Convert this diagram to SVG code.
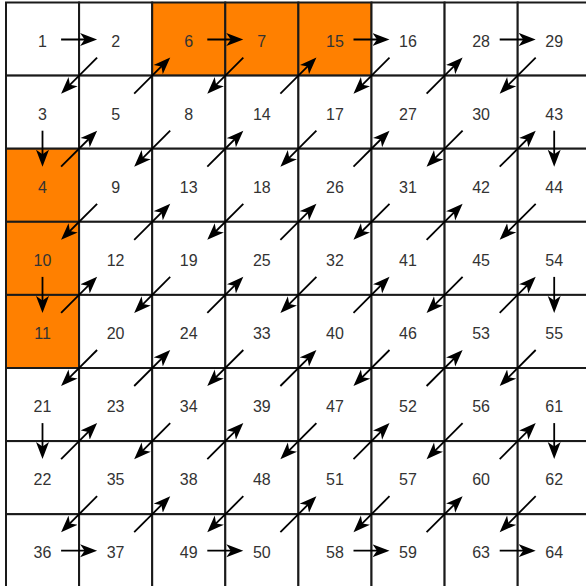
<svg xmlns="http://www.w3.org/2000/svg" width="586" height="586" viewBox="0 0 586 586">
<style>
.c{fill:#fff;stroke:#1a1a1a;stroke-width:2}
.o{fill:#ff8000;stroke:#1a1a1a;stroke-width:2}
text{font-family:"Liberation Sans",Arial,sans-serif;font-size:16px;fill:#333;text-anchor:middle}
.a{stroke:#000;stroke-width:1.8;fill:none;marker-end:url(#ah)}
</style>
<defs>
<marker id="ah" markerUnits="userSpaceOnUse" markerWidth="18" markerHeight="14" refX="13" refY="6.5" orient="auto" viewBox="0 0 18 13">
<path d="M0,0 L17,6.5 L0,13 L4.5,6.5 Z" fill="#000"/>
</marker>
</defs>
<rect width="586" height="586" fill="#fff"/>
<g id="nodes">
<g id="n1" transform="translate(6,2.5)"><rect class="c" width="73.1" height="73.1"/><text x="36.5" y="44.1">1</text></g>
<g id="n2" transform="translate(79.1,2.5)"><rect class="c" width="73.1" height="73.1"/><text x="36.5" y="44.1">2</text></g>
<g id="n6" transform="translate(152.2,2.5)"><rect class="o" width="73.1" height="73.1"/><text x="36.5" y="44.1">6</text></g>
<g id="n7" transform="translate(225.3,2.5)"><rect class="o" width="73.1" height="73.1"/><text x="36.5" y="44.1">7</text></g>
<g id="n15" transform="translate(298.4,2.5)"><rect class="o" width="73.1" height="73.1"/><text x="36.5" y="44.1">15</text></g>
<g id="n16" transform="translate(371.5,2.5)"><rect class="c" width="73.1" height="73.1"/><text x="36.5" y="44.1">16</text></g>
<g id="n28" transform="translate(444.6,2.5)"><rect class="c" width="73.1" height="73.1"/><text x="36.5" y="44.1">28</text></g>
<g id="n29" transform="translate(517.7,2.5)"><rect class="c" width="73.1" height="73.1"/><text x="36.5" y="44.1">29</text></g>

<g id="n3" transform="translate(6,75.6)"><rect class="c" width="73.1" height="73.1"/><text x="36.5" y="44.1">3</text></g>
<g id="n5" transform="translate(79.1,75.6)"><rect class="c" width="73.1" height="73.1"/><text x="36.5" y="44.1">5</text></g>
<g id="n8" transform="translate(152.2,75.6)"><rect class="c" width="73.1" height="73.1"/><text x="36.5" y="44.1">8</text></g>
<g id="n14" transform="translate(225.3,75.6)"><rect class="c" width="73.1" height="73.1"/><text x="36.5" y="44.1">14</text></g>
<g id="n17" transform="translate(298.4,75.6)"><rect class="c" width="73.1" height="73.1"/><text x="36.5" y="44.1">17</text></g>
<g id="n27" transform="translate(371.5,75.6)"><rect class="c" width="73.1" height="73.1"/><text x="36.5" y="44.1">27</text></g>
<g id="n30" transform="translate(444.6,75.6)"><rect class="c" width="73.1" height="73.1"/><text x="36.5" y="44.1">30</text></g>
<g id="n43" transform="translate(517.7,75.6)"><rect class="c" width="73.1" height="73.1"/><text x="36.5" y="44.1">43</text></g>

<g id="n4" transform="translate(6,148.7)"><rect class="o" width="73.1" height="73.1"/><text x="36.5" y="44.1">4</text></g>
<g id="n9" transform="translate(79.1,148.7)"><rect class="c" width="73.1" height="73.1"/><text x="36.5" y="44.1">9</text></g>
<g id="n13" transform="translate(152.2,148.7)"><rect class="c" width="73.1" height="73.1"/><text x="36.5" y="44.1">13</text></g>
<g id="n18" transform="translate(225.3,148.7)"><rect class="c" width="73.1" height="73.1"/><text x="36.5" y="44.1">18</text></g>
<g id="n26" transform="translate(298.4,148.7)"><rect class="c" width="73.1" height="73.1"/><text x="36.5" y="44.1">26</text></g>
<g id="n31" transform="translate(371.5,148.7)"><rect class="c" width="73.1" height="73.1"/><text x="36.5" y="44.1">31</text></g>
<g id="n42" transform="translate(444.6,148.7)"><rect class="c" width="73.1" height="73.1"/><text x="36.5" y="44.1">42</text></g>
<g id="n44" transform="translate(517.7,148.7)"><rect class="c" width="73.1" height="73.1"/><text x="36.5" y="44.1">44</text></g>

<g id="n10" transform="translate(6,221.8)"><rect class="o" width="73.1" height="73.1"/><text x="36.5" y="44.1">10</text></g>
<g id="n12" transform="translate(79.1,221.8)"><rect class="c" width="73.1" height="73.1"/><text x="36.5" y="44.1">12</text></g>
<g id="n19" transform="translate(152.2,221.8)"><rect class="c" width="73.1" height="73.1"/><text x="36.5" y="44.1">19</text></g>
<g id="n25" transform="translate(225.3,221.8)"><rect class="c" width="73.1" height="73.1"/><text x="36.5" y="44.1">25</text></g>
<g id="n32" transform="translate(298.4,221.8)"><rect class="c" width="73.1" height="73.1"/><text x="36.5" y="44.1">32</text></g>
<g id="n41" transform="translate(371.5,221.8)"><rect class="c" width="73.1" height="73.1"/><text x="36.5" y="44.1">41</text></g>
<g id="n45" transform="translate(444.6,221.8)"><rect class="c" width="73.1" height="73.1"/><text x="36.5" y="44.1">45</text></g>
<g id="n54" transform="translate(517.7,221.8)"><rect class="c" width="73.1" height="73.1"/><text x="36.5" y="44.1">54</text></g>

<g id="n11" transform="translate(6,294.9)"><rect class="o" width="73.1" height="73.1"/><text x="36.5" y="44.1">11</text></g>
<g id="n20" transform="translate(79.1,294.9)"><rect class="c" width="73.1" height="73.1"/><text x="36.5" y="44.1">20</text></g>
<g id="n24" transform="translate(152.2,294.9)"><rect class="c" width="73.1" height="73.1"/><text x="36.5" y="44.1">24</text></g>
<g id="n33" transform="translate(225.3,294.9)"><rect class="c" width="73.1" height="73.1"/><text x="36.5" y="44.1">33</text></g>
<g id="n40" transform="translate(298.4,294.9)"><rect class="c" width="73.1" height="73.1"/><text x="36.5" y="44.1">40</text></g>
<g id="n46" transform="translate(371.5,294.9)"><rect class="c" width="73.1" height="73.1"/><text x="36.5" y="44.1">46</text></g>
<g id="n53" transform="translate(444.6,294.9)"><rect class="c" width="73.1" height="73.1"/><text x="36.5" y="44.1">53</text></g>
<g id="n55" transform="translate(517.7,294.9)"><rect class="c" width="73.1" height="73.1"/><text x="36.5" y="44.1">55</text></g>

<g id="n21" transform="translate(6,368)"><rect class="c" width="73.1" height="73.1"/><text x="36.5" y="44.1">21</text></g>
<g id="n23" transform="translate(79.1,368)"><rect class="c" width="73.1" height="73.1"/><text x="36.5" y="44.1">23</text></g>
<g id="n34" transform="translate(152.2,368)"><rect class="c" width="73.1" height="73.1"/><text x="36.5" y="44.1">34</text></g>
<g id="n39" transform="translate(225.3,368)"><rect class="c" width="73.1" height="73.1"/><text x="36.5" y="44.1">39</text></g>
<g id="n47" transform="translate(298.4,368)"><rect class="c" width="73.1" height="73.1"/><text x="36.5" y="44.1">47</text></g>
<g id="n52" transform="translate(371.5,368)"><rect class="c" width="73.1" height="73.1"/><text x="36.5" y="44.1">52</text></g>
<g id="n56" transform="translate(444.6,368)"><rect class="c" width="73.1" height="73.1"/><text x="36.5" y="44.1">56</text></g>
<g id="n61" transform="translate(517.7,368)"><rect class="c" width="73.1" height="73.1"/><text x="36.5" y="44.1">61</text></g>

<g id="n22" transform="translate(6,441.1)"><rect class="c" width="73.1" height="73.1"/><text x="36.5" y="44.1">22</text></g>
<g id="n35" transform="translate(79.1,441.1)"><rect class="c" width="73.1" height="73.1"/><text x="36.5" y="44.1">35</text></g>
<g id="n38" transform="translate(152.2,441.1)"><rect class="c" width="73.1" height="73.1"/><text x="36.5" y="44.1">38</text></g>
<g id="n48" transform="translate(225.3,441.1)"><rect class="c" width="73.1" height="73.1"/><text x="36.5" y="44.1">48</text></g>
<g id="n51" transform="translate(298.4,441.1)"><rect class="c" width="73.1" height="73.1"/><text x="36.5" y="44.1">51</text></g>
<g id="n57" transform="translate(371.5,441.1)"><rect class="c" width="73.1" height="73.1"/><text x="36.5" y="44.1">57</text></g>
<g id="n60" transform="translate(444.6,441.1)"><rect class="c" width="73.1" height="73.1"/><text x="36.5" y="44.1">60</text></g>
<g id="n62" transform="translate(517.7,441.1)"><rect class="c" width="73.1" height="73.1"/><text x="36.5" y="44.1">62</text></g>

<g id="n36" transform="translate(6,514.2)"><rect class="c" width="73.1" height="73.1"/><text x="36.5" y="44.1">36</text></g>
<g id="n37" transform="translate(79.1,514.2)"><rect class="c" width="73.1" height="73.1"/><text x="36.5" y="44.1">37</text></g>
<g id="n49" transform="translate(152.2,514.2)"><rect class="c" width="73.1" height="73.1"/><text x="36.5" y="44.1">49</text></g>
<g id="n50" transform="translate(225.3,514.2)"><rect class="c" width="73.1" height="73.1"/><text x="36.5" y="44.1">50</text></g>
<g id="n58" transform="translate(298.4,514.2)"><rect class="c" width="73.1" height="73.1"/><text x="36.5" y="44.1">58</text></g>
<g id="n59" transform="translate(371.5,514.2)"><rect class="c" width="73.1" height="73.1"/><text x="36.5" y="44.1">59</text></g>
<g id="n63" transform="translate(444.6,514.2)"><rect class="c" width="73.1" height="73.1"/><text x="36.5" y="44.1">63</text></g>
<g id="n64" transform="translate(517.7,514.2)"><rect class="c" width="73.1" height="73.1"/><text x="36.5" y="44.1">64</text></g>
</g>
<g id="connectors">
<line class="a" x1="61.1" y1="39.5" x2="93.1" y2="39.5"/>
<line class="a" x1="97.1" y1="57.6" x2="63.9" y2="90.8"/>
<line class="a" x1="42.5" y1="130.7" x2="42.5" y2="162.7"/>
<line class="a" x1="61.1" y1="166.7" x2="94.3" y2="133.5"/>
<line class="a" x1="134.2" y1="93.6" x2="167.4" y2="60.4"/>
<line class="a" x1="207.3" y1="39.5" x2="239.3" y2="39.5"/>
<line class="a" x1="243.3" y1="57.6" x2="210.1" y2="90.8"/>
<line class="a" x1="170.2" y1="130.7" x2="137" y2="163.9"/>
<line class="a" x1="97.1" y1="203.8" x2="63.9" y2="237"/>
<line class="a" x1="42.5" y1="276.9" x2="42.5" y2="308.9"/>
<line class="a" x1="61.1" y1="312.9" x2="94.3" y2="279.7"/>
<line class="a" x1="134.2" y1="239.8" x2="167.4" y2="206.6"/>
<line class="a" x1="207.3" y1="166.7" x2="240.5" y2="133.5"/>
<line class="a" x1="280.4" y1="93.6" x2="313.6" y2="60.4"/>
<line class="a" x1="353.5" y1="39.5" x2="385.5" y2="39.5"/>
<line class="a" x1="389.5" y1="57.6" x2="356.3" y2="90.8"/>
<line class="a" x1="316.4" y1="130.7" x2="283.2" y2="163.9"/>
<line class="a" x1="243.3" y1="203.8" x2="210.1" y2="237"/>
<line class="a" x1="170.2" y1="276.9" x2="137" y2="310.1"/>
<line class="a" x1="97.1" y1="350" x2="63.9" y2="383.2"/>
<line class="a" x1="42.5" y1="423.1" x2="42.5" y2="455.1"/>
<line class="a" x1="61.1" y1="459.1" x2="94.3" y2="425.9"/>
<line class="a" x1="134.2" y1="386" x2="167.4" y2="352.8"/>
<line class="a" x1="207.3" y1="312.9" x2="240.5" y2="279.7"/>
<line class="a" x1="280.4" y1="239.8" x2="313.6" y2="206.6"/>
<line class="a" x1="353.5" y1="166.7" x2="386.7" y2="133.5"/>
<line class="a" x1="426.6" y1="93.6" x2="459.8" y2="60.4"/>
<line class="a" x1="499.7" y1="39.5" x2="531.7" y2="39.5"/>
<line class="a" x1="535.7" y1="57.6" x2="502.5" y2="90.8"/>
<line class="a" x1="462.6" y1="130.7" x2="429.4" y2="163.9"/>
<line class="a" x1="389.5" y1="203.8" x2="356.3" y2="237"/>
<line class="a" x1="316.4" y1="276.9" x2="283.2" y2="310.1"/>
<line class="a" x1="243.3" y1="350" x2="210.1" y2="383.2"/>
<line class="a" x1="170.2" y1="423.1" x2="137" y2="456.3"/>
<line class="a" x1="97.1" y1="496.2" x2="63.9" y2="529.4"/>
<line class="a" x1="61.1" y1="550.7" x2="93.1" y2="550.7"/>
<line class="a" x1="134.2" y1="532.2" x2="167.4" y2="499"/>
<line class="a" x1="207.3" y1="459.1" x2="240.5" y2="425.9"/>
<line class="a" x1="280.4" y1="386" x2="313.6" y2="352.8"/>
<line class="a" x1="353.5" y1="312.9" x2="386.7" y2="279.7"/>
<line class="a" x1="426.6" y1="239.8" x2="459.8" y2="206.6"/>
<line class="a" x1="499.7" y1="166.7" x2="532.9" y2="133.5"/>
<line class="a" x1="554.2" y1="130.7" x2="554.2" y2="162.7"/>
<line class="a" x1="535.7" y1="203.8" x2="502.5" y2="237"/>
<line class="a" x1="462.6" y1="276.9" x2="429.4" y2="310.1"/>
<line class="a" x1="389.5" y1="350" x2="356.3" y2="383.2"/>
<line class="a" x1="316.4" y1="423.1" x2="283.2" y2="456.3"/>
<line class="a" x1="243.3" y1="496.2" x2="210.1" y2="529.4"/>
<line class="a" x1="207.3" y1="550.7" x2="239.3" y2="550.7"/>
<line class="a" x1="280.4" y1="532.2" x2="313.6" y2="499"/>
<line class="a" x1="353.5" y1="459.1" x2="386.7" y2="425.9"/>
<line class="a" x1="426.6" y1="386" x2="459.8" y2="352.8"/>
<line class="a" x1="499.7" y1="312.9" x2="532.9" y2="279.7"/>
<line class="a" x1="554.2" y1="276.9" x2="554.2" y2="308.9"/>
<line class="a" x1="535.7" y1="350" x2="502.5" y2="383.2"/>
<line class="a" x1="462.6" y1="423.1" x2="429.4" y2="456.3"/>
<line class="a" x1="389.5" y1="496.2" x2="356.3" y2="529.4"/>
<line class="a" x1="353.5" y1="550.7" x2="385.5" y2="550.7"/>
<line class="a" x1="426.6" y1="532.2" x2="459.8" y2="499"/>
<line class="a" x1="499.7" y1="459.1" x2="532.9" y2="425.9"/>
<line class="a" x1="554.2" y1="423.1" x2="554.2" y2="455.1"/>
<line class="a" x1="535.7" y1="496.2" x2="502.5" y2="529.4"/>
<line class="a" x1="499.7" y1="550.7" x2="531.7" y2="550.7"/>
</g>
</svg>
